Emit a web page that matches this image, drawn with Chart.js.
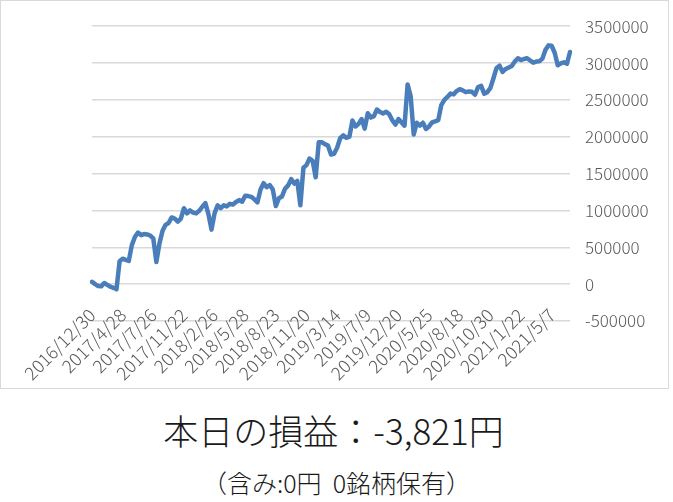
<!DOCTYPE html>
<html>
<head>
<meta charset="utf-8">
<script src="https://cdn.jsdelivr.net/npm/chart.js@4"></script>
<style>
    html, body { margin: 0; padding: 0; background: #fff; }
    body { width: 673px; height: 502px; position: relative; overflow: hidden; }
    .chart-box {
        position: absolute; left: 0; top: 0;
        width: 667px; height: 387px;
        border: 1px solid #d9d9d9;
    }
    .summary {
        position: absolute; left: 0; width: 673px; text-align: center;
        font-family: 'Noto Sans CJK JP', sans-serif; color: #1a1a1a;
        line-height: 1;
    }
    .summary.main { top: 412px; font-size: 35px; font-weight: 300; left: -3px; }
    .summary.sub { top: 470px; font-size: 25px; font-weight: 300; }
</style>
</head>
<body>
<div class="chart-box"><canvas id="pnlChart"></canvas></div>
<div class="summary main">本日の損益：-3,821円</div>
<div class="summary sub">（含み:0円&nbsp;&nbsp;0銘柄保有）</div>

<script>
// tick labels shown under the axis, one every `labelEvery` points
const tickLabels = [
    '2016/12/30', '2017/4/28', '2017/7/26', '2017/11/22', '2018/2/26', '2018/5/28',
    '2018/8/23', '2018/11/20', '2019/3/14', '2019/7/9', '2019/12/20', '2020/5/25',
    '2020/8/18', '2020/10/30', '2021/1/22', '2021/5/7'
];
const labelEvery = 10;

// cumulative profit (yen)
const profit = [
    30000, 0, -25000, -30000, 15000, -10000, -35000, -50000, -70000, 310000,
    345000, 330000, 315000, 530000, 640000, 700000, 665000, 680000, 675000, 660000,
    620000, 300000, 550000, 720000, 805000, 830000, 905000, 890000, 850000, 890000,
    1030000, 960000, 1000000, 970000, 960000, 995000, 1050000, 1100000, 950000, 740000,
    960000, 1070000, 1030000, 1070000, 1055000, 1090000, 1080000, 1115000, 1140000, 1120000,
    1200000, 1195000, 1185000, 1150000, 1110000, 1285000, 1370000, 1315000, 1345000, 1285000,
    1060000, 1165000, 1190000, 1295000, 1340000, 1425000, 1365000, 1400000, 1070000, 1580000,
    1615000, 1705000, 1675000, 1450000, 1925000, 1925000, 1900000, 1880000, 1760000, 1770000,
    1850000, 1980000, 2020000, 1985000, 2000000, 2220000, 2140000, 2175000, 2240000, 2110000,
    2320000, 2260000, 2280000, 2370000, 2335000, 2315000, 2340000, 2305000, 2225000, 2165000,
    2240000, 2195000, 2150000, 2710000, 2550000, 2030000, 2190000, 2150000, 2190000, 2105000,
    2140000, 2195000, 2210000, 2225000, 2430000, 2500000, 2540000, 2585000, 2575000, 2620000,
    2645000, 2630000, 2605000, 2615000, 2610000, 2570000, 2675000, 2690000, 2585000, 2605000,
    2660000, 2790000, 2930000, 2965000, 2880000, 2920000, 2940000, 2960000, 3020000, 3065000,
    3040000, 3055000, 3065000, 3035000, 3005000, 3020000, 3025000, 3060000, 3180000, 3240000,
    3235000, 3140000, 2970000, 2995000, 3010000, 2990000, 3150000
];

const yMin = -500000;
const yMax = 3500000;
const yStep = 500000;

const pointLabels = profit.map((_, i) =>
    i % labelEvery === 0 && tickLabels[i / labelEvery] ? tickLabels[i / labelEvery] : '');

const tickColor = '#595959';

new Chart(document.getElementById('pnlChart'), {
    type: 'line',
    data: {
        labels: pointLabels,
        datasets: [{
            data: profit,
            borderColor: '#4a7ebb',
            borderWidth: 4.5,
            borderJoinStyle: 'round',
            borderCapStyle: 'round',
            pointRadius: 0,
            tension: 0,
            fill: false
        }]
    },
    options: {
        responsive: true,
        maintainAspectRatio: false,
        animation: false,
        layout: { padding: { left: 91, top: 23, bottom: 67, right: 0 } },
        plugins: {
            legend: { display: false },
            tooltip: { enabled: false }
        },
        scales: {
            x: {
                type: 'category',
                position: { y: 0 },
                offset: false,
                grid: { display: false },
                border: { display: false },
                ticks: {
                    autoSkip: false,
                    minRotation: 45,
                    maxRotation: 45,
                    padding: 12,
                    color: tickColor,
                    font: { family: "'Noto Sans CJK JP', sans-serif", size: 18, weight: 300 }
                }
            },
            y: {
                position: 'right',
                min: yMin,
                max: yMax,
                grid: { color: '#d9d9d9', lineWidth: 1.5, drawTicks: false },
                border: { display: false },
                ticks: {
                    stepSize: yStep,
                    padding: 15,
                    color: tickColor,
                    font: { family: "'Noto Sans CJK JP', sans-serif", size: 17, weight: 300 },
                    callback: v => String(v)
                },
                afterFit: scale => { scale.width = 98; }
            }
        }
    }
});
</script>
</body>
</html>
